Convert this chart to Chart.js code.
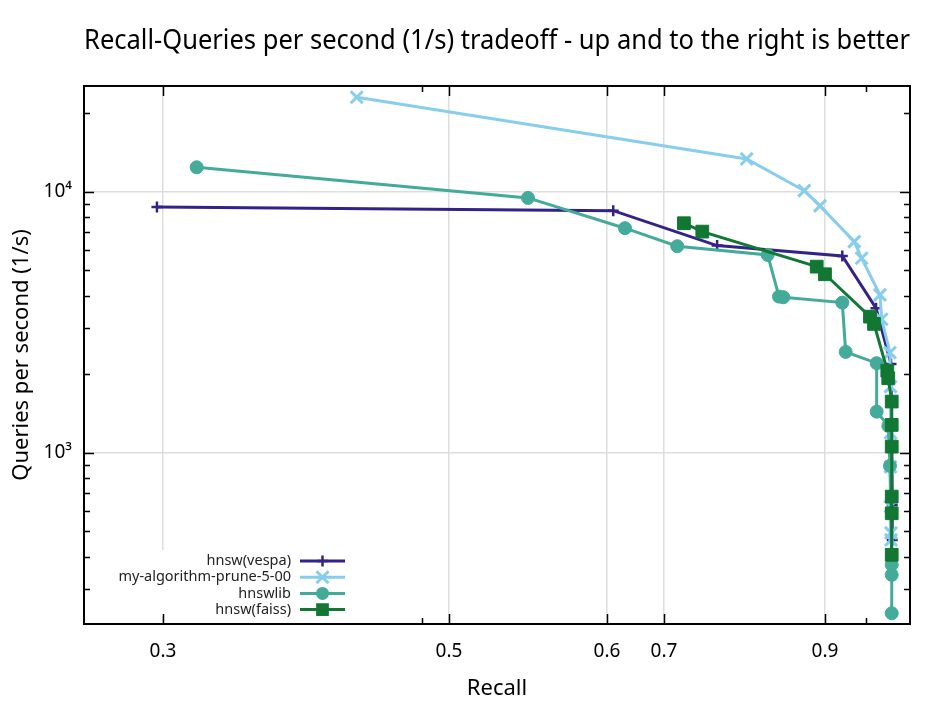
<!DOCTYPE html>
<html><head><meta charset="utf-8">
<script src="https://cdn.jsdelivr.net/npm/chart.js@4/dist/chart.umd.min.js"></script>
<style>html,body{margin:0;padding:0;background:#fff}canvas{display:block}</style>
</head><body>
<canvas id="c" width="944" height="708" style="width:944px;height:708px"></canvas>
<script>
// ---------------- data ----------------
const seriesNames = ['hnsw(vespa)', 'my-algorithm-prune-5-00', 'hnswlib', 'hnsw(faiss)'];

const vespaRecall = [0.2958, 0.611, 0.766, 0.9215, 0.9634, 0.982, 0.9835, 0.9835];
const vespaQps    = [8760, 8480, 6228, 5686, 3584, 2193, 632, 464];

const pruneRecall = [0.4355, 0.8027, 0.8743, 0.8938, 0.9364, 0.9455, 0.9683, 0.9704, 0.9807, 0.9814, 0.9814, 0.9814, 0.9814, 0.9820, 0.9820];
const pruneQps    = [23060, 13380, 10115, 8840, 6450, 5572, 4031, 3253, 2423, 1795, 1193, 884, 623, 494, 464];

const hnswlibRecall = [0.3236, 0.55, 0.6316, 0.7165, 0.8288, 0.8429, 0.8482, 0.9215, 0.9257, 0.9642, 0.9642, 0.9787, 0.9807, 0.9829, 0.9829, 0.9829];
const hnswlibQps    = [12430, 9485, 7262, 6195, 5737, 3972, 3950, 3766, 2438, 2207, 1439, 1269, 892, 373, 341, 243];

const faissRecall = [0.7248, 0.7476, 0.8897, 0.9, 0.9559, 0.9609, 0.9774, 0.9786, 0.9829, 0.9829, 0.9829, 0.9829, 0.9829, 0.9829];
const faissQps    = [7587, 7047, 5173, 4837, 3328, 3121, 2067, 1933, 1573, 1280, 1057, 680, 587, 407];

const xTickValues = [0.3, 0.5, 0.6, 0.7, 0.9];
const xMinorTickValues = [0.481, 0.951];
const yTickValues = [1000, 10000];
const yTickLabels = ['10\u00B3', '10\u2074'];

// ---------------- x axis warp (non-uniform recall axis) ----------------
const warpKnotsX = [0.3, 0.5, 0.6, 0.7, 0.9];
const warpKnotsU = [0, 286, 444, 501, 662];
function interp(v, A, B) {
  const n = A.length;
  if (v <= A[0]) return B[0] + (v - A[0]) * (B[1] - B[0]) / (A[1] - A[0]);
  for (let i = 1; i < n; i++) {
    if (v <= A[i]) return B[i - 1] + (v - A[i - 1]) * (B[i] - B[i - 1]) / (A[i] - A[i - 1]);
  }
  return B[n - 1] + (v - A[n - 1]) * (B[n - 1] - B[n - 2]) / (A[n - 1] - A[n - 2]);
}
const warp = v => interp(v, warpKnotsX, warpKnotsU);
const unwarp = u => interp(u, warpKnotsU, warpKnotsX);

class WarpScale extends Chart.LinearScale {
  getPixelForValue(value) {
    const a = warp(this.min), b = warp(this.max);
    return this.getPixelForDecimal((warp(value) - a) / (b - a));
  }
  getValueForPixel(pixel) {
    const a = warp(this.min), b = warp(this.max);
    return unwarp(a + this.getDecimalForPixel(pixel) * (b - a));
  }
}
WarpScale.id = 'warp';
WarpScale.defaults = Chart.LinearScale.defaults;
Chart.register(WarpScale);

// ---------------- styling ----------------
const FONT = 'Noto Sans';
const colors = ['#332288', '#88CCEE', '#44AA99', '#117733'];
const styles = [
  {pointStyle: 'cross', radius: 5.5, bw: 2.5},
  {pointStyle: 'crossRot', radius: 8.5, bw: 3},
  {pointStyle: 'circle', radius: 6.5, bw: 1},
  {pointStyle: 'rect', radius: 9, bw: 1}
];
const recalls = [vespaRecall, pruneRecall, hnswlibRecall, faissRecall];
const qps = [vespaQps, pruneQps, hnswlibQps, faissQps];

const datasets = seriesNames.map((name, i) => ({
  label: name,
  data: recalls[i].map((x, j) => ({x: x, y: qps[i][j]})),
  borderColor: colors[i],
  backgroundColor: colors[i],
  borderWidth: 3,
  pointStyle: styles[i].pointStyle,
  pointRadius: styles[i].radius,
  pointBorderWidth: styles[i].bw,
  pointBackgroundColor: colors[i],
  pointBorderColor: colors[i],
  tension: 0,
  fill: false,
  order: 4 - i
}));

function drawMarker(ctx, style, color, x, y) {
  ctx.save();
  ctx.strokeStyle = color; ctx.fillStyle = color; ctx.lineWidth = style.bw;
  const r = style.radius;
  ctx.beginPath();
  if (style.pointStyle === 'cross') {
    ctx.moveTo(x - r, y); ctx.lineTo(x + r, y); ctx.moveTo(x, y - r); ctx.lineTo(x, y + r); ctx.stroke();
  } else if (style.pointStyle === 'crossRot') {
    const s = r * Math.SQRT1_2;
    ctx.moveTo(x - s, y - s); ctx.lineTo(x + s, y + s); ctx.moveTo(x - s, y + s); ctx.lineTo(x + s, y - s); ctx.stroke();
  } else if (style.pointStyle === 'circle') {
    ctx.arc(x, y, r, 0, Math.PI * 2); ctx.fill();
  } else {
    const s = r * Math.SQRT1_2;
    ctx.rect(x - s, y - s, 2 * s, 2 * s); ctx.fill();
  }
  ctx.restore();
}

const legendPlugin = {
  id: 'customLegend',
  afterDatasetsDraw(chart) {
    const ctx = chart.ctx, ca = chart.chartArea;
    ctx.save();
    ctx.fillStyle = '#ffffff';
    ctx.fillRect(ca.left + 30, ca.bottom - 74, 234, 66);
    ctx.font = '14.5px "' + FONT + '"';
    ctx.textAlign = 'right';
    ctx.textBaseline = 'middle';
    const textX = ca.left + 207;
    const l0 = ca.left + 216, l1 = ca.left + 261;
    seriesNames.forEach((name, i) => {
      const y = ca.bottom - 63 + i * 16.2;
      ctx.fillStyle = '#222222';
      ctx.fillText(name, textX, y);
      ctx.strokeStyle = colors[i]; ctx.lineWidth = 3;
      ctx.beginPath(); ctx.moveTo(l0, y); ctx.lineTo(l1, y); ctx.stroke();
      drawMarker(ctx, styles[i], colors[i], (l0 + l1) / 2, y);
    });
    ctx.restore();
  }
};

const framePlugin = {
  id: 'frame',
  afterDraw(chart) {
    const ctx = chart.ctx, ca = chart.chartArea;
    const xs = chart.scales.x, ys = chart.scales.y;
    ctx.save();
    ctx.strokeStyle = '#000000';
    ctx.lineWidth = 1.5;
    ctx.beginPath();
    const vt = (v, len) => {
      const p = Math.round(xs.getPixelForValue(v)) + 0.5;
      ctx.moveTo(p, ca.bottom); ctx.lineTo(p, ca.bottom - len);
      ctx.moveTo(p, ca.top); ctx.lineTo(p, ca.top + len);
    };
    const ht = (v, len) => {
      const p = Math.round(ys.getPixelForValue(v)) + 0.5;
      ctx.moveTo(ca.left, p); ctx.lineTo(ca.left + len, p);
      ctx.moveTo(ca.right, p); ctx.lineTo(ca.right - len, p);
    };
    xTickValues.forEach(v => vt(v, 10));
    xMinorTickValues.forEach(v => vt(v, 6));
    yTickValues.forEach(v => ht(v, 10));
    for (let d = 100; d <= 10000; d *= 10) {
      for (let k = 2; k <= 9; k++) {
        const v = k * d;
        if (v > ys.min && v < ys.max) ht(v, 6);
      }
    }
    ctx.stroke();
    ctx.lineWidth = 2;
    ctx.strokeRect(ca.left, ca.top, ca.right - ca.left, ca.bottom - ca.top);
    ctx.restore();
  }
};

new Chart(document.getElementById('c').getContext('2d'), {
  type: 'line',
  data: {datasets: datasets},
  options: {
    responsive: false,
    animation: false,
    devicePixelRatio: 1,
    layout: {padding: {left: 0, right: 34, top: 0, bottom: 0}},
    plugins: {
      legend: {display: false},
      tooltip: {enabled: false},
      title: {
        display: true,
        fullSize: false,
        text: 'Recall-Queries per second (1/s) tradeoff - up and to the right is better',
        color: '#000000',
        font: {family: FONT, size: 26.4, weight: 'normal', lineHeight: 1.2},
        padding: {top: 25.2, bottom: 29.1}
      }
    },
    scales: {
      x: {
        type: 'warp',
        position: 'bottom',
        min: 0.2448,
        max: 1.0056,
        afterBuildTicks: s => { s.ticks = xTickValues.map(v => ({value: v})); },
        afterFit: s => { s.height = 84; },
        grid: {color: '#dddddd', lineWidth: 1.5, drawTicks: false},
        border: {display: false},
        ticks: {
          autoSkip: false, maxRotation: 0, padding: 16,
          color: '#000000',
          font: {family: FONT, size: 19},
          callback: v => String(v)
        },
        title: {
          display: true, text: 'Recall', color: '#000000',
          font: {family: FONT, size: 22, lineHeight: 1.2},
          padding: {top: 0, bottom: 6}
        }
      },
      y: {
        type: 'logarithmic',
        min: 221,
        max: 25470,
        afterBuildTicks: s => { s.ticks = yTickValues.map(v => ({value: v, major: true})); },
        afterFit: s => { s.width = 84; },
        grid: {color: '#dddddd', lineWidth: 1.5, drawTicks: false},
        border: {display: false},
        ticks: {
          autoSkip: false, padding: 12,
          color: '#000000',
          font: {family: FONT, size: 19},
          callback: v => yTickLabels[yTickValues.indexOf(v)] || ''
        },
        title: {
          display: true, text: 'Queries per second (1/s)', color: '#000000',
          font: {family: FONT, size: 22, lineHeight: 1.2},
          padding: {top: 9, bottom: 0}
        }
      }
    }
  },
  plugins: [legendPlugin, framePlugin]
});
</script>
</body></html>
